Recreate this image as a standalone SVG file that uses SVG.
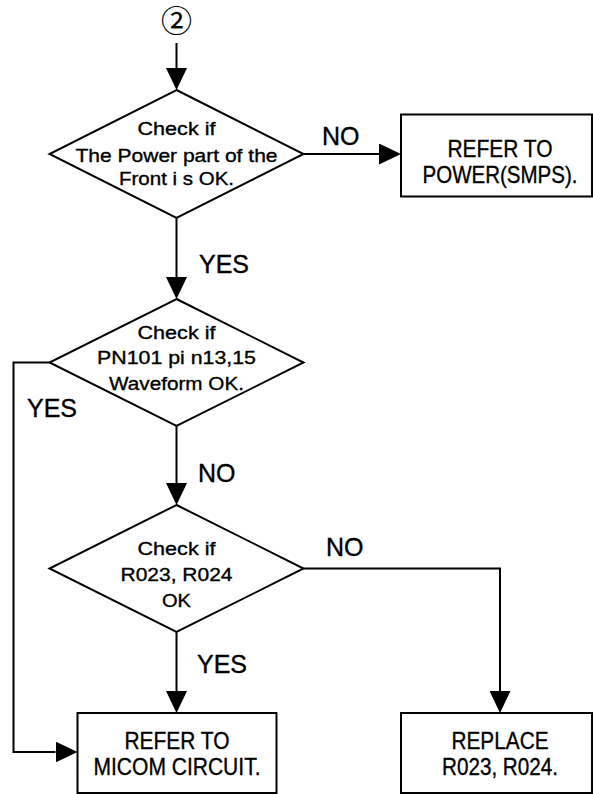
<svg xmlns="http://www.w3.org/2000/svg" width="593" height="794" viewBox="0 0 593 794">
<style>
.shape{fill:#fff;stroke:#000;stroke-width:2}
.wire{fill:none;stroke:#000;stroke-width:2}
text{font-family:"Liberation Sans",Arial,sans-serif;fill:#000;stroke:#000;stroke-width:0.35}
.dt{font-size:18.5px;text-anchor:middle}
.bt{font-size:24px;text-anchor:middle}
.lb{font-size:25px}
.circ{font-family:"Noto Sans CJK JP","DejaVu Sans",sans-serif;font-size:31px;text-anchor:middle;stroke-width:0.2}
</style>
<defs>
<marker id="arr" markerUnits="userSpaceOnUse" markerWidth="22" markerHeight="21" refX="0" refY="10.5" orient="auto">
<path d="M0,0 L22,10.5 L0,21 Z" fill="#000"/>
</marker>
</defs>
<rect width="593" height="794" fill="#fff"/>

<g id="start">
<text class="circ" x="176.5" y="31.5">②</text>
</g>

<g id="connectors">
<path class="wire" d="M176.5,43 V68" marker-end="url(#arr)"/>
<path class="wire" d="M303.5,154 H379" marker-end="url(#arr)"/>
<path class="wire" d="M176.5,218 V277" marker-end="url(#arr)"/>
<path class="wire" d="M176.5,426 V483" marker-end="url(#arr)"/>
<path class="wire" d="M176.5,632 V691" marker-end="url(#arr)"/>
<path class="wire" d="M49.5,362.5 H13.5 V752 H55.5" marker-end="url(#arr)"/>
<path class="wire" d="M303.5,568.5 H500 V691" marker-end="url(#arr)"/>
<text class="lb" x="322" y="145">NO</text>
<text class="lb" x="199" y="273">YES</text>
<text class="lb" x="27" y="417">YES</text>
<text class="lb" x="198" y="482">NO</text>
<text class="lb" x="326" y="556">NO</text>
<text class="lb" x="197" y="673">YES</text>
</g>

<g id="check-power">
<polygon class="shape" points="176.5,90 303.5,154 176.5,218 49.5,154"/>
<text class="dt" x="176.5" y="135" textLength="78" lengthAdjust="spacingAndGlyphs">Check if</text>
<text class="dt" x="176.5" y="161.5" textLength="202" lengthAdjust="spacingAndGlyphs">The Power part of the</text>
<text class="dt" x="176.5" y="185" textLength="115" lengthAdjust="spacingAndGlyphs">Front i s OK.</text>
</g>

<g id="refer-power">
<rect class="shape" x="401" y="114.5" width="191" height="82"/>
<text class="bt" x="500" y="156.5" textLength="105" lengthAdjust="spacingAndGlyphs">REFER TO</text>
<text class="bt" x="500" y="182.5" textLength="155" lengthAdjust="spacingAndGlyphs">POWER(SMPS).</text>
</g>

<g id="check-pn101">
<polygon class="shape" points="176.5,299 303.5,362.5 176.5,426 49.5,362.5"/>
<text class="dt" x="176.5" y="338.5" textLength="78" lengthAdjust="spacingAndGlyphs">Check if</text>
<text class="dt" x="176.5" y="364" textLength="159" lengthAdjust="spacingAndGlyphs">PN101 pi n13,15</text>
<text class="dt" x="176.5" y="389.5" textLength="135" lengthAdjust="spacingAndGlyphs">Waveform OK.</text>
</g>

<g id="check-r023">
<polygon class="shape" points="176.5,505 303.5,568.5 176.5,632 49.5,568.5"/>
<text class="dt" x="176.5" y="555" textLength="78" lengthAdjust="spacingAndGlyphs">Check if</text>
<text class="dt" x="176.5" y="580.5" textLength="112" lengthAdjust="spacingAndGlyphs">R023, R024</text>
<text class="dt" x="176.5" y="606.5" textLength="29" lengthAdjust="spacingAndGlyphs">OK</text>
</g>

<g id="refer-micom">
<rect class="shape" x="77.5" y="713" width="199" height="80"/>
<text class="bt" x="177" y="749" textLength="105" lengthAdjust="spacingAndGlyphs">REFER TO</text>
<text class="bt" x="177" y="775" textLength="167" lengthAdjust="spacingAndGlyphs">MICOM CIRCUIT.</text>
</g>

<g id="replace">
<rect class="shape" x="401" y="713" width="191" height="80"/>
<text class="bt" x="500" y="749" textLength="97" lengthAdjust="spacingAndGlyphs">REPLACE</text>
<text class="bt" x="500" y="775" textLength="116" lengthAdjust="spacingAndGlyphs">R023, R024.</text>
</g>
</svg>
